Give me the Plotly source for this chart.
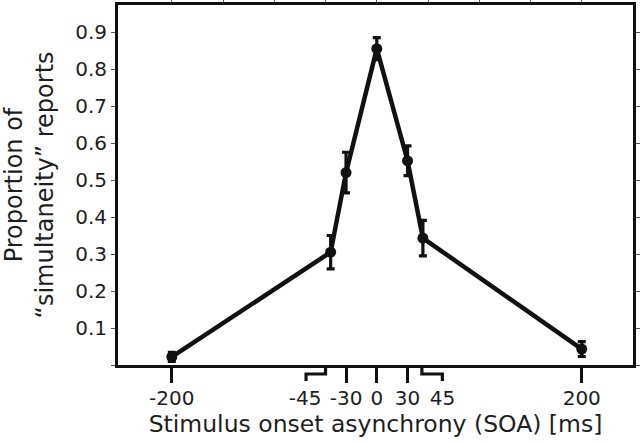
import plotly.graph_objects as go

# Data
soa = [-200, -45, -30, 0, 30, 45, 200]
prop = [0.022, 0.305, 0.52, 0.855, 0.552, 0.343, 0.043]
err = [0.012, 0.045, 0.055, 0.03, 0.04, 0.048, 0.02]

tick_vals = [-200, -30, 0, 30, 200]
label_vals = [-200, -70, -30, 0, 30, 64, 200]
label_text = ["-200", "-45", "-30", "0", "30", "45", "200"]
y_ticks = [0, 0.1, 0.2, 0.3, 0.4, 0.5, 0.6, 0.7, 0.8, 0.9]
y_text = ["", "0.1", "0.2", "0.3", "0.4", "0.5", "0.6", "0.7", "0.8", "0.9"]
top_ticks = [-200, -150, -100, -50, 0, 50, 100, 150, 200]

FONT = "DejaVu Sans, Arial, sans-serif"
TXT = "#1e1e1e"
XR = [-252.5, 250]
YR = [0, 0.973]

fig = go.Figure()
fig.add_trace(go.Scatter(
    x=soa, y=prop, mode="lines+markers",
    line=dict(color="#111", width=4.5),
    marker=dict(color="#111", size=11, symbol="circle"),
    error_y=dict(type="data", array=err, visible=True, color="#111", thickness=3.2, width=4),
    showlegend=False, cliponaxis=False,
))
fig.add_trace(go.Scatter(x=[0], y=[0], xaxis="x2", mode="markers",
                         marker=dict(opacity=0), showlegend=False, hoverinfo="skip"))

# brackets for -45 / 45 (px offsets below the axis converted to paper fraction)
plot_h = 445 - 5 - 80
def py(px):
    return -px / plot_h

for top_x, foot_x in [(-50, -69), (44, 64)]:
    fig.add_shape(type="path", xref="x", yref="paper",
                  path=f"M {top_x},0 L {top_x},{py(9)} L {foot_x},{py(9)} L {foot_x},{py(16)}",
                  line=dict(color="#111", width=3.2))

fig.update_layout(
    width=640, height=445,
    margin=dict(l=118, r=7, t=5, b=80),
    paper_bgcolor="white", plot_bgcolor="white",
    font=dict(family=FONT, size=20, color=TXT),
    xaxis=dict(
        range=XR, showgrid=False, zeroline=False, automargin=False,
        showline=True, linecolor="#111", linewidth=3,
        tickmode="array", tickvals=label_vals, ticktext=label_text,
        ticks="outside", ticklen=13, tickcolor="rgba(0,0,0,0)",
        minor=dict(tickmode="array", tickvals=tick_vals, ticks="outside",
                   ticklen=15, tickwidth=3, tickcolor="#111"),
        title=dict(text="Stimulus onset asynchrony (SOA) [ms]", font=dict(size=23.5), standoff=4),
        tickfont=dict(size=20),
    ),
    xaxis2=dict(
        range=XR, overlaying="x", side="top", anchor="y", automargin=False,
        showgrid=False, zeroline=False, showline=True, linecolor="#111", linewidth=3,
        tickmode="array", tickvals=top_ticks, showticklabels=False,
        ticks="outside", ticklen=4, tickwidth=1, tickcolor="#555",
    ),
    yaxis=dict(
        range=YR, showgrid=False, zeroline=False, automargin=False,
        showline=True, linecolor="#111", linewidth=3, mirror="ticks",
        tickmode="array", tickvals=y_ticks, ticktext=y_text,
        ticks="outside", ticklen=4, tickwidth=1, tickcolor="#555",
        title=dict(text="Proportion of<br>“simultaneity” reports", font=dict(size=24), standoff=22),
        tickfont=dict(size=20),
    ),
)

fig.write_html("out.html", config={"displayModeBar": False},
               post_script="document.body.style.margin='0';")
